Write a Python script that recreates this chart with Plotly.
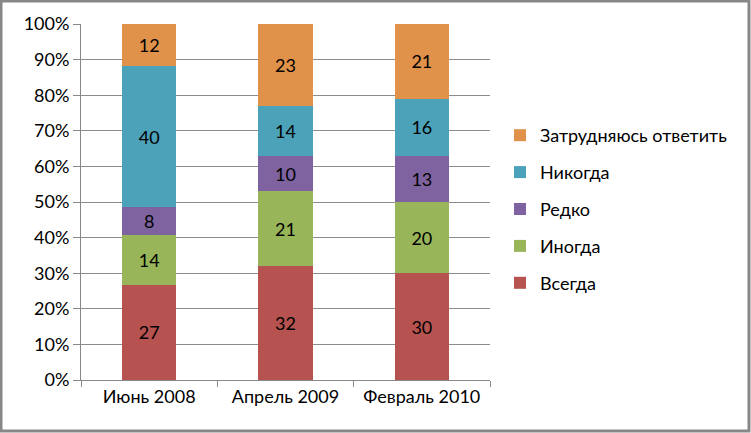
import plotly.graph_objects as go

categories = ["Июнь 2008", "Апрель 2009", "Февраль 2010"]
series_names = ["Всегда", "Иногда", "Редко", "Никогда", "Затрудняюсь ответить"]
vsegda = [27, 32, 30]
inogda = [14, 21, 20]
redko = [8, 10, 13]
nikogda = [40, 14, 16]
zatrudn = [12, 23, 21]
series_values = [vsegda, inogda, redko, nikogda, zatrudn]
colors = ["#B65350", "#98B55A", "#7E63A0", "#4BA2B9", "#E0914A"]
y_ticks = [0, 10, 20, 30, 40, 50, 60, 70, 80, 90, 100]
y_tick_labels = [f"{t}%" for t in y_ticks]

FONT = "Lato, 'Open Sans', sans-serif"
FS = 18
W, H = 751, 433
L, R, T, B = 81, 261, 24, 53

fig = go.Figure()
n = len(series_names)
for i, (name, vals, col) in enumerate(zip(series_names, series_values, colors)):
    fig.add_trace(go.Bar(
        x=categories, y=vals, name=name, marker=dict(color=col, line=dict(width=0)),
        text=vals, texttemplate="%{text}", textposition="inside",
        insidetextanchor="middle", textangle=0,
        textfont=dict(color="black", size=FS, family=FONT),
        legendgroup=name, legendrank=n - i,
    ))

pw = W - L - R
ph = H - T - B
fig.update_layout(
    width=W, height=H,
    margin=dict(l=L, r=R, t=T, b=B),
    barmode="stack", barnorm="percent", bargap=0.6,
    plot_bgcolor="white", paper_bgcolor="white",
    font=dict(family=FONT, size=FS, color="black"),
    uniformtext=dict(minsize=8, mode=False),
    xaxis=dict(showline=True, linecolor="#888888", linewidth=1,
               ticks="outside", tickson="boundaries", ticklen=6, tickcolor="#888888",
               tickfont=dict(size=FS)),
    yaxis=dict(range=[0, 100], tickvals=y_ticks, ticktext=y_tick_labels,
               showgrid=True, gridcolor="#8c8c8c", gridwidth=1,
               showline=True, linecolor="#888888", linewidth=1,
               ticks="outside", ticklen=7, tickcolor="#888888",
               tickfont=dict(size=FS), zeroline=False),
    legend=dict(traceorder="grouped", tracegroupgap=10.5,
                x=(500 - L) / pw, y=1 - (117 - T) / ph, xanchor="left", yanchor="top",
                font=dict(size=FS), itemwidth=30, bgcolor="rgba(0,0,0,0)"),
    showlegend=True,
)
fig.add_shape(type="rect", xref="paper", yref="paper",
              x0=(1 - L) / pw, x1=(W - 2 - L) / pw,
              y0=1 + (T - 1) / ph, y1=-(B - 2) / ph,
              line=dict(color="#878787", width=3), fillcolor="rgba(0,0,0,0)", layer="above")
fig.write_html("out.html")
